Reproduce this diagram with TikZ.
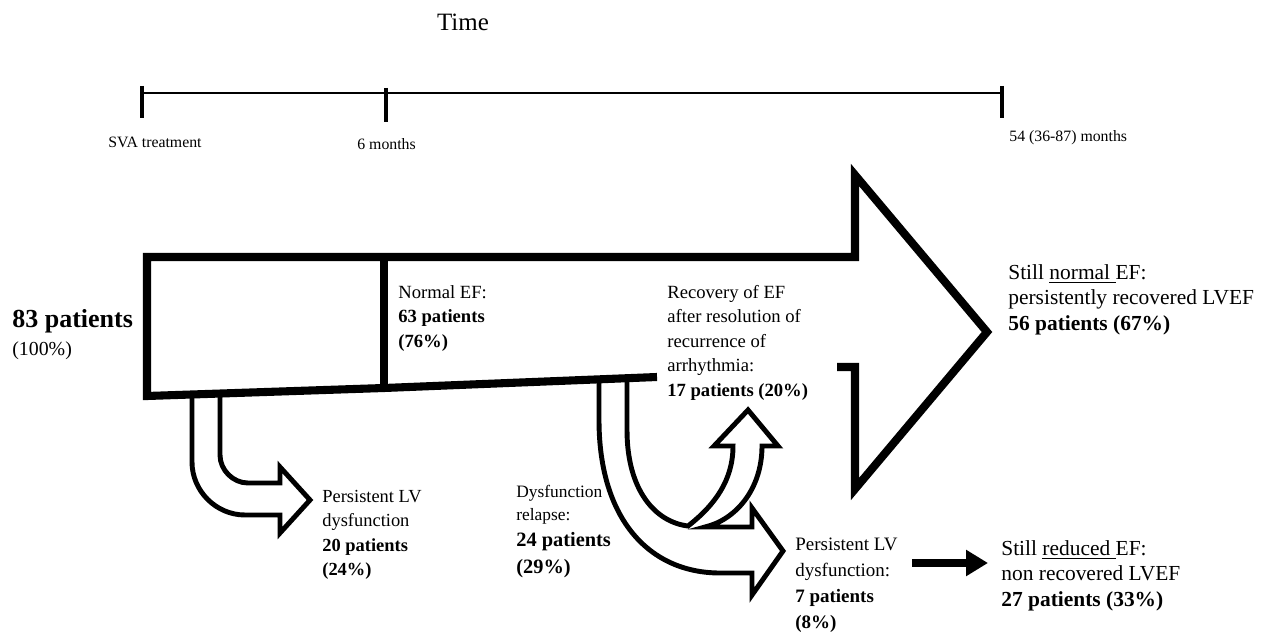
\documentclass[tikz,border=0pt]{standalone}
\usepackage{fontspec}
\setmainfont{Liberation Serif}
\usepackage{tikz}
\usetikzlibrary{calc}
\usetikzlibrary{arrows.meta}

\tikzset{
    timeline/.style={line width=1.7pt},
    tickmark/.style={line width=2.6pt},
    bigoutline/.style={line width=4.6pt, line join=miter},
    flowoutline/.style={line width=2.8pt, line join=miter},
    fatarrow/.style={line width=5.1pt, -{Triangle[length=0.44cm, width=0.50cm]}},
    txt/.style={anchor=north west, inner sep=0pt, align=left},
    ticklabel/.style={anchor=west, inner sep=0pt, font=\fontsize{9}{11}\selectfont},
}

\begin{document}
\begin{tikzpicture}[x=0.02cm, y=-0.02cm]
        \useasboundingbox (0,0) rectangle (1270,634);

        % time axis
        \node[font=\fontsize{14.2}{17}\selectfont] (time) at (463,22) {Time};
        \draw[timeline] (142,93) -- (1002,93);
        \draw[tickmark] (142,86) -- (142,118);
        \draw[tickmark] (386,88) -- (386,122);
        \draw[tickmark] (1002,86) -- (1002,118);
        \node[ticklabel] (tsva) at (108,142) {SVA treatment};
        \node[ticklabel] (tsix) at (357,144) {6 months};
        \node[ticklabel] (tend) at (1009,138) {54 (36-87) months};

        % big arrow
        \draw[bigoutline] (837,367) -- (855,367) -- (855,489) -- (987,332) -- (855,175)
            -- (855,257) -- (147,257) -- (147,396) -- (384,388) -- (657,377);
        \draw[bigoutline] (384,257) -- (384,388);

        % first branch
        \draw[flowoutline] (220,393) -- (220,455) .. controls (220,470) and (233,483) .. (248,483)
            -- (280,483) -- (280,467) -- (310,500) -- (280,533) -- (280,515) -- (245,515)
            .. controls (216,515) and (192,491) .. (192,462) -- (192,395);

        % second branch, split in two
        \draw[flowoutline] (599,379) -- (599,420) .. controls (599,520) and (650,573) .. (720,573)
            -- (752,573) -- (752,595) -- (783,551) -- (752,508) -- (752,527) -- (705,527)
            .. controls (735,520) and (762,490) .. (762,446) -- (778,446) -- (748,410)
            -- (714,446) -- (733,446) .. controls (733,480) and (715,505) .. (688,526)
            .. controls (655,522) and (627,490) .. (627,430) -- (627,378);

        % start
        \node[anchor=west, inner sep=0pt, font=\fontsize{14.8}{17}\selectfont\bfseries] (pall) at (12,321) {83 patients};
        \node[anchor=west, inner sep=0pt, font=\fontsize{11.3}{14}\selectfont] (pallpct) at (12,351) {(100\%)};

        % six months
        \node[txt, font=\fontsize{10.6}{13.9}\selectfont] (normal) at (398,285) {Normal EF:\\\textbf{63 patients}\\\textbf{(76\%)}};
        \node[txt, font=\fontsize{10.5}{13.9}\selectfont] (lvone) at (322,490) {Persistent LV\\dysfunction\\\textbf{20 patients}\\\textbf{(24\%)}};

        % relapse
        \node[txt, font=\fontsize{9.9}{13}\selectfont] (relapse) at (516,485) {Dysfunction\\relapse:};
        \node[txt, font=\fontsize{11.6}{15.3}\selectfont\bfseries] (relapsen) at (516,532) {24 patients\\(29\%)};
        \node[txt, font=\fontsize{10.6}{13.9}\selectfont] (recovery) at (667,285) {Recovery of EF\\after resolution of\\recurrence of\\arrhythmia:\\\textbf{17 patients (20\%)}};
        \node[txt, font=\fontsize{10.8}{14.7}\selectfont] (lvtwo) at (795,538) {Persistent LV\\dysfunction:\\\textbf{7 patients}\\\textbf{(8\%)}};

        % end of follow-up
        \node[txt, font=\fontsize{12.2}{14.5}\selectfont] (stillnormal) at (1008,264) {Still \underline{normal\ }EF:\\persistently recovered LVEF\\\textbf{56 patients (67\%)}};
        \node[txt, font=\fontsize{12.2}{14.5}\selectfont] (reduced) at (1001,540) {Still \underline{reduced\ }EF:\\non recovered LVEF\\\textbf{27 patients (33\%)}};

        \coordinate (tailA) at (912,563);
        \draw[fatarrow, shorten >=13*0.02cm] (tailA) -- (tailA -| reduced.west);
    \end{tikzpicture}
\end{document}
